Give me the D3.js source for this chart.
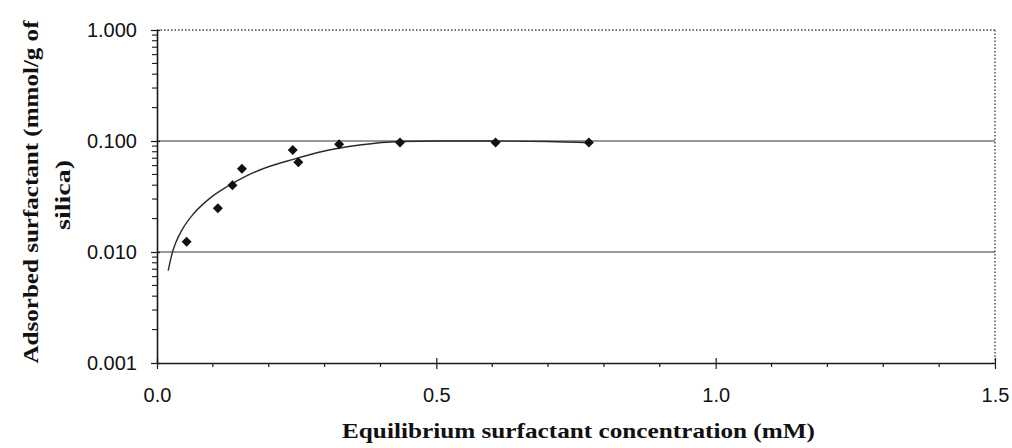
<!DOCTYPE html>
<html>
<head>
<meta charset="utf-8">
<script src="https://cdn.jsdelivr.net/npm/d3@7"></script>
<style>
  html, body { margin: 0; padding: 0; background: #fff; }
  svg { display: block; }
</style>
</head>
<body>
<svg id="chart" width="1012" height="448"></svg>
<script>
// Measured adsorption of surfactant on silica
const concentration = [0.053, 0.109, 0.135, 0.152, 0.243, 0.253, 0.326, 0.435, 0.606, 0.773];
const adsorbed      = [0.0124, 0.0248, 0.0399, 0.0563, 0.083, 0.0643, 0.0934, 0.097, 0.097, 0.097];

// Fitted isotherm curve
const fitConc     = [0.020, 0.028, 0.035, 0.045, 0.065, 0.095, 0.125, 0.155, 0.184, 0.244, 0.292, 0.363, 0.435, 0.500, 0.600, 0.700, 0.775];
const fitAdsorbed = [0.0068, 0.0101, 0.0126, 0.0159, 0.0220, 0.0306, 0.0387, 0.0470, 0.0548, 0.0684, 0.0796, 0.0920, 0.0990, 0.1000, 0.1000, 0.0990, 0.0965];

// Axis ticks
const xMajor = [0.0, 0.5, 1.0, 1.5];
const xTickLabels = ["0.0", "0.5", "1.0", "1.5"];
const xMinor = [0.1, 0.2, 0.3, 0.4, 0.6, 0.7, 0.8, 0.9, 1.1, 1.2, 1.3, 1.4];
const yMajor = [0.001, 0.01, 0.1, 1];
const yTickLabels = ["0.001", "0.010", "0.100", "1.000"];
const yGrid = [0.01, 0.1];

const xTitle = "Equilibrium surfactant concentration (mM)";
const yTitle1 = "Adsorbed surfactant (mmol/g of";
const yTitle2 = "silica)";

const svg = d3.select("#chart");
const plotLeft = 157, plotRight = 995, plotTop = 30, plotBottom = 363;

const x = d3.scaleLinear().domain([0, 1.5]).range([plotLeft, plotRight]);
const y = d3.scaleLog().domain([0.001, 1]).range([plotBottom, plotTop]);

const ink = "#1a1a1a";
const tickFont = "'Liberation Sans', Arial, sans-serif";
const titleFont = "'Liberation Serif', 'Times New Roman', serif";

// Horizontal gridlines
svg.append("g")
  .selectAll("line")
  .data(yGrid)
  .join("line")
  .attr("x1", plotLeft).attr("x2", plotRight)
  .attr("y1", d => y(d)).attr("y2", d => y(d))
  .attr("stroke", "#333").attr("stroke-width", 1.2);

// Dotted frame on top and right
svg.append("line")
  .attr("x1", plotLeft).attr("x2", plotRight).attr("y1", y(1)).attr("y2", y(1))
  .attr("stroke", "#444").attr("stroke-width", 1.4).attr("stroke-dasharray", "1.5,2");
svg.append("line")
  .attr("x1", plotRight).attr("x2", plotRight).attr("y1", y(1)).attr("y2", y(0.001))
  .attr("stroke", "#444").attr("stroke-width", 1.4).attr("stroke-dasharray", "1.5,2");

// Minor ticks
svg.append("g")
  .selectAll("line")
  .data(xMinor)
  .join("line")
  .attr("x1", d => x(d)).attr("x2", d => x(d))
  .attr("y1", plotBottom).attr("y2", plotBottom + 4)
  .attr("stroke", ink).attr("stroke-width", 1.2);

const yMinor = [];
[0.001, 0.01, 0.1].forEach(dec => { for (let k = 2; k <= 9; k++) yMinor.push(dec * k); });
svg.append("g")
  .selectAll("line")
  .data(yMinor)
  .join("line")
  .attr("x1", plotLeft - 5).attr("x2", plotLeft)
  .attr("y1", d => y(d)).attr("y2", d => y(d))
  .attr("stroke", ink).attr("stroke-width", 1.1);

// X axis
const gx = svg.append("g")
  .attr("transform", `translate(0,${plotBottom})`)
  .call(d3.axisBottom(x).tickValues(xMajor)
    .tickFormat((d, i) => xTickLabels[i])
    .tickSizeInner(5).tickSizeOuter(0).tickPadding(20));
gx.select(".domain").attr("stroke", ink).attr("stroke-width", 1.6);
gx.selectAll(".tick line").attr("y1", -5).attr("y2", 6).attr("stroke", ink).attr("stroke-width", 1.2);
gx.selectAll(".tick text")
  .attr("font-family", tickFont).attr("font-size", 20).attr("fill", "#111");

// Y axis
const gy = svg.append("g")
  .attr("transform", `translate(${plotLeft},0)`)
  .call(d3.axisLeft(y).tickValues(yMajor)
    .tickFormat((d, i) => yTickLabels[i])
    .tickSizeInner(6).tickSizeOuter(0).tickPadding(14));
gy.select(".domain").attr("stroke", ink).attr("stroke-width", 1.6);
gy.selectAll(".tick line").attr("x1", -6).attr("x2", 3).attr("stroke", ink).attr("stroke-width", 1.2);
gy.selectAll(".tick text")
  .attr("font-family", tickFont).attr("font-size", 20).attr("fill", "#111");

// Fitted curve
const fit = fitConc.map((c, i) => [c, fitAdsorbed[i]]);
svg.append("path")
  .datum(fit)
  .attr("fill", "none")
  .attr("stroke", "#2a2a2a")
  .attr("stroke-width", 1.4)
  .attr("d", d3.line().x(d => x(d[0])).y(d => y(d[1])).curve(d3.curveMonotoneX));

// Data points as diamonds
const diamond = d3.symbol().type(d3.symbolSquare).size(50);
svg.append("g")
  .selectAll("path")
  .data(concentration.map((c, i) => [c, adsorbed[i]]))
  .join("path")
  .attr("d", diamond)
  .attr("transform", d => `translate(${x(d[0])},${y(d[1])}) rotate(45)`)
  .attr("fill", "#111");

// Axis titles
svg.append("text")
  .attr("x", (342 + 815) / 2).attr("y", 438)
  .attr("text-anchor", "middle")
  .attr("font-family", titleFont).attr("font-weight", "bold").attr("font-size", 22)
  .attr("fill", "#111")
  .attr("textLength", 473).attr("lengthAdjust", "spacingAndGlyphs")
  .text(xTitle);

svg.append("text")
  .attr("transform", "translate(38,192) rotate(-90)")
  .attr("text-anchor", "middle")
  .attr("font-family", titleFont).attr("font-weight", "bold").attr("font-size", 22)
  .attr("fill", "#111")
  .attr("textLength", 343).attr("lengthAdjust", "spacingAndGlyphs")
  .text(yTitle1);

svg.append("text")
  .attr("transform", "translate(70,195) rotate(-90)")
  .attr("text-anchor", "middle")
  .attr("font-family", titleFont).attr("font-weight", "bold").attr("font-size", 22)
  .attr("fill", "#111")
  .attr("textLength", 70).attr("lengthAdjust", "spacingAndGlyphs")
  .text(yTitle2);
</script>
</body>
</html>
